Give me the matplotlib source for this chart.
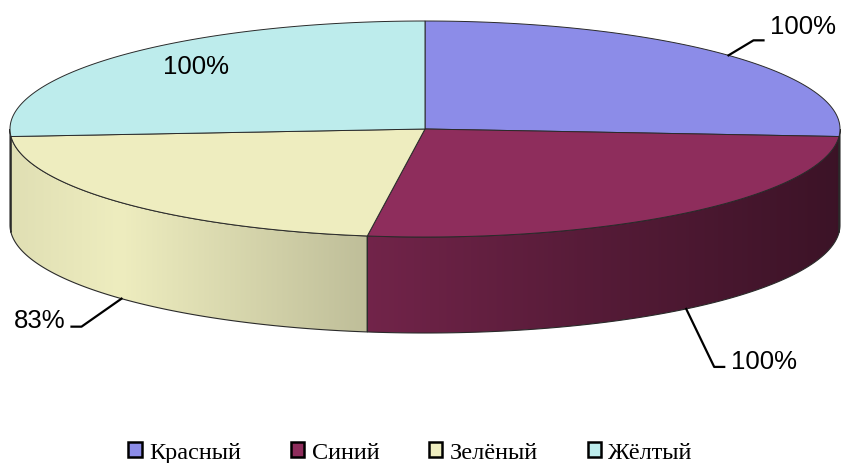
import numpy as np
import matplotlib.pyplot as plt
from matplotlib.patches import Polygon, Patch
from matplotlib.colors import to_rgb

# chart data
names = ['Красный', 'Синий', 'Зелёный', 'Жёлтый']
values = [100, 100, 83, 100]
pct_labels = ['100%', '100%', '83%', '100%']
colors = ['#8C8CE8', '#8E2D5C', '#EEEDBF', '#BDECEC']

# geometry of the flattened disc (pixel units)
cx, cy, rx, ry, depth = 425, 130, 415, 108, 96
W, H = 843, 464


def pt(theta, dy=0.0):
    # theta in degrees, clockwise from 12 o'clock
    t = np.radians(theta)
    return cx + rx * np.sin(t), cy - ry * np.cos(t) + dy


def shade(x):
    # lighting factor across the side wall
    return np.interp(x, [10, 120, 368, 600, 840], [0.94, 1.0, 0.8, 0.6, 0.42])


fig = plt.figure(figsize=(W / 100, H / 100), dpi=100)
ax = fig.add_axes([0, 0, 1, 1])
ax.axis('off')

edges = np.concatenate([[0], np.cumsum(values)]) / np.sum(values) * 360
edge_col = '#2a2a2a'

# side walls (front half only)
for i in range(len(values)):
    a, b = max(edges[i], 90), min(edges[i + 1], 270)
    if b <= a:
        continue
    th = np.linspace(a, b, 120)
    xt, yt = pt(th)
    xb, yb = pt(th[::-1], depth)
    verts = np.column_stack([np.r_[xt, xb], np.r_[yt, yb]])
    poly = Polygon(verts, closed=True, facecolor='none', edgecolor=edge_col,
                   lw=0.8, zorder=2)
    ax.add_patch(poly)
    x0, x1 = verts[:, 0].min(), verts[:, 0].max()
    xs = np.linspace(x0, x1, 300)
    base = np.array(to_rgb(colors[i]))
    grad = np.clip(base[None, :] * shade(xs)[:, None], 0, 1)[None, :, :]
    im = ax.imshow(grad, extent=(x0, x1, verts[:, 1].max(), verts[:, 1].min()),
                   aspect='auto', zorder=1, interpolation='bilinear')
    im.set_clip_path(poly)

# top faces
for i in range(len(values)):
    th = np.linspace(edges[i], edges[i + 1], 150)
    xs, ys = pt(th)
    verts = np.column_stack([np.r_[cx, xs], np.r_[cy, ys]])
    ax.add_patch(Polygon(verts, closed=True, facecolor=colors[i],
                         edgecolor=edge_col, lw=0.7, zorder=3))

# data labels with leader lines
mids = (edges[:-1] + edges[1:]) / 2
lab_font = dict(family='Liberation Sans', size=18.5, color='black')
line_kw = dict(color='black', lw=1.6, zorder=4)

# Красный
x, y = pt(mids[0])
ax.plot([x, x + 25, x + 35], [y, y - 15, y - 15], **line_kw)
ax.text(x + 42, y - 29, pct_labels[0], ha='left', va='center', **lab_font)

# Синий
x, y = pt(mids[1], depth)
ax.plot([x, x + 28, x + 38], [y, y + 58, y + 58], **line_kw)
ax.text(x + 45, y + 52, pct_labels[1], ha='left', va='center', **lab_font)

# Зелёный
x, y = pt(mids[2], depth)
ax.plot([x, x - 40, x - 50], [y, y + 28, y + 28], **line_kw)
ax.text(x - 56, y + 21, pct_labels[2], ha='right', va='center', **lab_font)

# Жёлтый (inside)
ax.text(196, 67, pct_labels[3], ha='center', va='center', zorder=5, **lab_font)

# legend
handles = [Patch(facecolor=c, edgecolor='black', lw=1.8) for c in colors]
ax.legend(handles, names, ncol=4, loc='center', bbox_to_anchor=(0.487, 0.022),
          frameon=False, prop={'family': 'Liberation Serif', 'size': 17.5},
          handlelength=0.55, handleheight=0.55, handletextpad=0.3,
          columnspacing=2.05, borderaxespad=0)

ax.set_xlim(0, W)
ax.set_ylim(H, 0)

fig.savefig('out.png', dpi=100)
